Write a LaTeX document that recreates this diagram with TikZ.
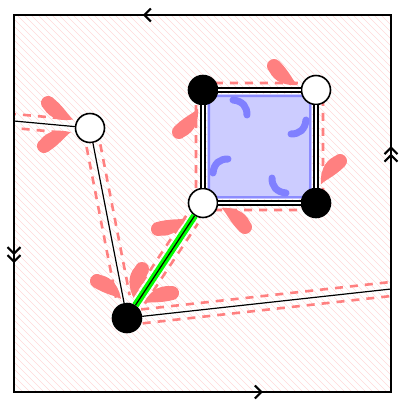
\documentclass[tikz,border=0pt]{standalone}
\usepackage{tikz}
\usetikzlibrary{arrows.meta}
\usetikzlibrary{calc}
\usetikzlibrary{backgrounds}
\usetikzlibrary{decorations.markings}

% tapered curved petal: thick end at #1, turned by #2, mirrored by #3
\newcommand{\petal}[3]{%
	\begin{scope}[shift={#1}, rotate=#2, yscale=#3]
		\fill[petalfill] (0,0) circle (7);
		\fill[petalfill] (0,-7) .. controls (14,-7) and (22,-3) .. (30,-2.5)
			.. controls (22,6) and (12,11.5) .. (0,7) -- cycle;
	\end{scope}}

\begin{document}
\begin{tikzpicture}[x=1pt, y=-1pt, line width=1.3pt,
	hatchline/.style={red!15, line width=0.7pt},
	petalfill/.style={red!50},
	inkstroke/.style={blue!50, line width=7pt, line cap=round},
	seam/.style={red!50, line width=2.6pt, dash pattern=on 8pt off 7pt},
	vertex/.style={circle, draw, line width=1.6pt, minimum size=29pt, inner sep=0pt},
	whitevertex/.style={vertex, fill=white},
	blackvertex/.style={vertex, fill=black},
	plainedge/.style={black, line width=1.2pt, preaction={draw=white, line width=3.6pt}},
	glueedge/.style={black, line width=1.2pt, preaction={draw=green, line width=7pt}},
	faceside/.style={double=white, line width=1.6pt, double distance=2.6pt},
	frameside/.style={line width=2.3pt, line cap=rect},
	onebarb/.style={postaction={decorate, decoration={markings,
		mark=at position #1 with {\arrow{Straight Barb[length=6.5pt, width=13pt, line width=2.1pt]}}}}}]
	\useasboundingbox (0,0) rectangle (400,400);
	\coordinate (tl) at (14,15);
	\coordinate (tr) at (391,15);
	\coordinate (br) at (391,392);
	\coordinate (bl) at (14,392);
	\coordinate (pl) at (14,121);
	\coordinate (pr) at (391,289);
	\coordinate (sqc) at (259.5,146.5);
	% vertices
	\node[whitevertex] (vA) at (90,128) {};
	\node[blackvertex] (vB) at (127,318) {};
	\node[whitevertex] (vC) at (203,203) {};
	\node[blackvertex] (vD) at (203,90) {};
	\node[whitevertex] (vE) at (316,90) {};
	\node[blackvertex] (vF) at (316,203) {};
	\begin{pgfonlayer}{background}
		\begin{scope}
			\clip (tl) rectangle (br);
			\foreach \h in {-390,-383,...,400} {
				\draw[hatchline] (\h,0) -- ++(400,400);
			}
			% face
			\fill[blue!20] ($(vD)+(4,4)$) rectangle ($(vF)+(-4,-4)$);
			\draw[blue!45, line width=2pt, rounded corners=9pt]
				($(vD)+(6,6)$) rectangle ($(vF)+(-6,-6)$);
			\draw[seam, rounded corners=7pt] ($(vD)+(-7,-7)$) rectangle ($(vF)+(7,7)$);
			% offset seams along the edges
			\foreach \p/\q/\a/\b in {vA/pl/30/0, vA/vB/18/22, vB/pr/15/0, vB/vC/22/20} {
				\foreach \s/\t in {90/-90,-90/90} {
					\draw[seam, shorten <=\a pt, shorten >=\b pt]
						($(\p)!7pt!\s:(\q)$) -- ($(\q)!7pt!\t:(\p)$);
				}
			}
			\foreach \r in {0,-90,-180,-270} {
				\begin{scope}[rotate around={\r:(sqc)}]
					\draw[inkstroke] (233,100) .. controls (243,101) and (247,107) .. (247,115);
					\petal{(179,132)}{46}{1}
				\end{scope}
			}
			\petal{(48,103)}{-38}{1}
			\petal{(44,146)}{32}{-1}
			\petal{(97,281)}{-32}{-1}
			\petal{(142,269)}{-111}{1}
			\petal{(172,293)}{-165}{1}
			\petal{(158,229)}{16}{1}
		\end{scope}
	\end{pgfonlayer}
	% edges
	\draw[plainedge] (vA) -- (pl);
	\draw[plainedge] (vA) -- (vB);
	\draw[plainedge] (vB) -- (pr);
	\draw[glueedge] (vB) -- (vC);
	\draw[faceside] (vD) -- (vE);
	\draw[faceside] (vE) -- (vF);
	\draw[faceside] (vF) -- (vC);
	\draw[faceside] (vC) -- (vD);
	% frame
	\draw[frameside, onebarb=0.658] (tr) -- (tl);
	\draw[frameside, onebarb=0.66] (bl) -- (br);
	\draw[frameside, onebarb=0.632, onebarb=0.652] (br) -- (tr);
	\draw[frameside, onebarb=0.637, onebarb=0.658] (tl) -- (bl);
\end{tikzpicture}
\end{document}
